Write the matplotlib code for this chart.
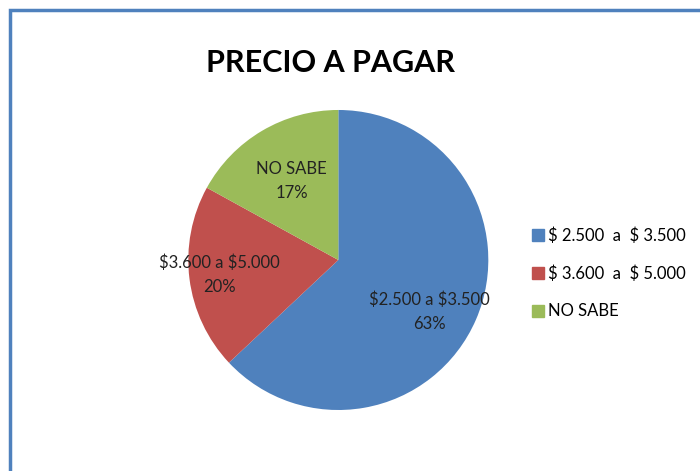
import matplotlib
matplotlib.use("Agg")
import matplotlib.pyplot as plt
import numpy as np
from matplotlib.lines import Line2D
from matplotlib.patches import Rectangle

plt.rcParams["font.family"] = ["Lato", "DejaVu Sans"]
plt.rcParams["text.parse_math"] = False

# data
labels = ["$2.500 a $3.500", "$3.600 a $5.000", "NO SABE"]
legend_labels = ["$ 2.500  a  $ 3.500", "$ 3.600  a  $ 5.000", "NO SABE"]
shares = [63, 20, 17]
colors = ["#4F81BD", "#C0504D", "#9BBB59"]
label_dist = [0.70, 0.80, 0.61]
label_turn = [-6.0, 0.0, 0.0]

fig = plt.figure(figsize=(7.0, 4.71), dpi=100)
fig.patch.set_facecolor("white")

# chart frame (only left and top edges are inside the crop)
fig.add_artist(Rectangle((10 / 700, -0.1), 1.2, 1.1 - 10 / 471, transform=fig.transFigure,
                         fill=False, edgecolor="#4F81BD", linewidth=2.5))

ax = fig.add_axes([0.269, 0.1295, 0.4286, 0.637])
wedges, _ = ax.pie(shares, colors=colors, startangle=90, counterclock=False,
                   radius=1.0, wedgeprops=dict(linewidth=0))
ax.set_xlim(-1, 1)
ax.set_ylim(-1, 1)
ax.set_aspect("equal")

for w, lab, pct, d, t in zip(wedges, labels, shares, label_dist, label_turn):
    mid = np.deg2rad((w.theta1 + w.theta2) / 2 + t)
    ax.text(d * np.cos(mid), d * np.sin(mid), f"{lab}\n{pct}%", ha="center", va="center",
            fontsize=12, color="#222222", linespacing=1.6)

fig.text(0.472, 0.866, "PRECIO A PAGAR", ha="center", va="center",
         fontsize=22, fontweight="bold", color="black")

handles = [Line2D([], [], marker="s", linestyle="none", markersize=8,
                  markerfacecolor=c, markeredgecolor=c) for c in colors]
fig.legend(handles, legend_labels, loc="center left", bbox_to_anchor=(0.74, 0.42),
           frameon=False, fontsize=12, handlelength=0.6, handletextpad=0.3,
           labelspacing=1.3)

fig.savefig("out.png", dpi=100, facecolor="white")
